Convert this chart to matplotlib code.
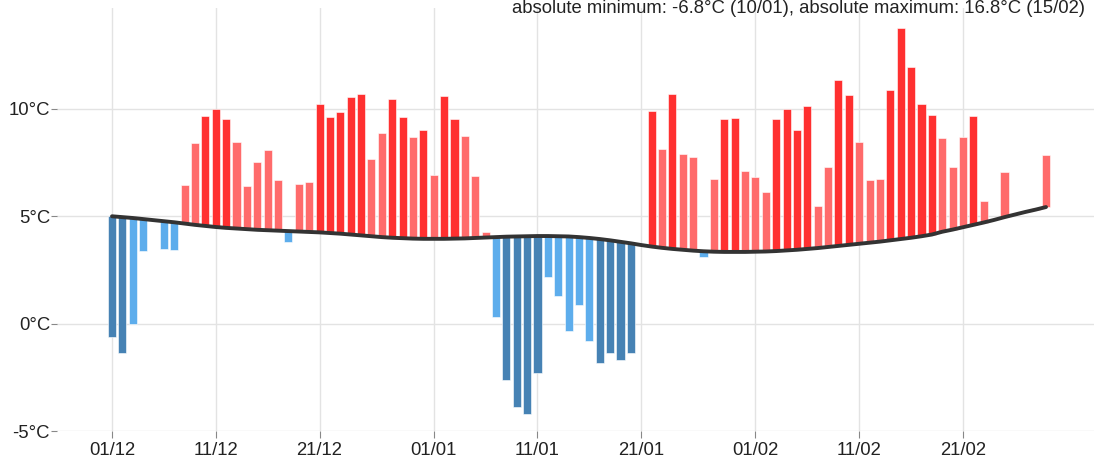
import numpy as np
import matplotlib
matplotlib.use('Agg')
import matplotlib.pyplot as plt

plt.rcParams['font.family'] = ['Liberation Sans', 'DejaVu Sans']

# ---- data (day 0 = 01/12) ----
tick_days = [0, 10, 20, 31, 41, 51, 62, 72, 82]
tick_labels = ['01/12', '11/12', '21/12', '01/01', '11/01', '21/01', '01/02', '11/02', '21/02']
y_ticks = [-5, 0, 5, 10]
y_labels = ['-5°C', '0°C', '5°C', '10°C']

temps = [
    -0.64, -1.38, 0.0, 3.40, None, 3.48, 3.45, 6.47, 8.41, 9.65,      # 0-9
    9.99, 9.53, 8.45, 6.40, 7.54, 8.10, 6.70, 3.78, 6.51, 6.60,        # 10-19
    10.22, 9.62, 9.87, 10.55, 10.69, 7.68, 8.86, 10.46, 9.62, 8.70,    # 20-29
    9.04, 6.92, 10.58, 9.53, 8.72, 6.88, 4.27, 0.30, -2.63, -3.87,     # 30-39
    -4.21, -2.28, 2.16, 1.29, -0.36, 0.87, -0.81, -1.85, -1.35, -1.69, # 40-49
    -1.38, None, 9.88, 8.13, 10.68, 7.91, 7.77, 3.09, 6.73, 9.54,      # 50-59
    9.60, 7.10, 6.85, 6.12, 9.51, 9.98, 9.01, 10.12, 5.47, 7.30,       # 60-69
    11.33, 10.66, 8.44, 6.68, 6.74, 10.86, 13.77, 11.97, 10.22, 9.71,  # 70-79
    8.64, 7.30, 8.70, 9.67, 5.72, None, 7.07, None, None, 5.40,        # 80-89
    7.87,                                                              # 90
]

normal = [
    5.00, 4.96, 4.92, 4.87, 4.82, 4.77, 4.72, 4.66, 4.60, 4.55,
    4.50, 4.46, 4.43, 4.40, 4.37, 4.35, 4.33, 4.31, 4.29, 4.27,
    4.25, 4.22, 4.19, 4.15, 4.11, 4.07, 4.03, 4.00, 3.98, 3.96,
    3.95, 3.95, 3.95, 3.96, 3.97, 3.99, 4.01, 4.03, 4.05, 4.06,
    4.07, 4.08, 4.08, 4.07, 4.06, 4.03, 3.99, 3.94, 3.88, 3.81,
    3.74, 3.66, 3.59, 3.53, 3.48, 3.44, 3.40, 3.37, 3.35, 3.34,
    3.34, 3.34, 3.35, 3.36, 3.38, 3.41, 3.44, 3.48, 3.52, 3.57,
    3.62, 3.67, 3.72, 3.77, 3.82, 3.88, 3.94, 4.00, 4.07, 4.15,
    4.28, 4.38, 4.49, 4.60, 4.71, 4.83, 4.96, 5.08, 5.20, 5.31,
    5.43,
]

summary = 'absolute minimum: -6.8°C (10/01), absolute maximum: 16.8°C (15/02)'

# ---- styling ----
DARK_RED = '#FF3030'
LIGHT_RED = '#FF6B6B'
DARK_BLUE = '#4682B4'
LIGHT_BLUE = '#5DADEC'
THRESH = 5.0

W, H = 1094, 458
fig = plt.figure(figsize=(W / 100, H / 100), dpi=100)
ax = fig.add_axes([57 / W, (H - 431) / H, 1044 / W, 423 / H])

days = np.arange(len(normal))
xs, bottoms, heights, colors = [], [], [], []
for i, t in enumerate(temps):
    if t is None:
        continue
    n = normal[i]
    dev = t - n
    if dev >= 0:
        c = DARK_RED if dev > THRESH else LIGHT_RED
    else:
        c = DARK_BLUE if -dev > THRESH else LIGHT_BLUE
    xs.append(i)
    bottoms.append(min(t, n))
    heights.append(abs(dev))
    colors.append(c)

ax.bar(xs, heights, bottom=bottoms, width=0.78, color=colors,
       edgecolor='white', linewidth=0.4, zorder=2)
ax.plot(days, normal, color='#333333', lw=2.8, solid_capstyle='round', zorder=3)

ax.set_xlim(-5.3, 95.3)
ax.set_ylim(-5.0, 14.7)
ax.set_xticks(tick_days)
ax.set_xticklabels(tick_labels)
ax.set_yticks(y_ticks)
ax.set_yticklabels(y_labels)
ax.grid(True, color='#e3e3e3', lw=1.0, zorder=0)
ax.set_axisbelow(True)
for s in ax.spines.values():
    s.set_visible(False)
ax.tick_params(axis='both', colors='#888888', labelcolor='#222222',
               labelsize=13.3, length=4, width=0.8, pad=1)
ax.tick_params(axis='x', length=5, pad=3)

fig.text(1085 / W, 1 - 13 / H, summary, ha='right', va='baseline',
         fontsize=13.3, color='#222222')

fig.savefig('out.png', dpi=100)
